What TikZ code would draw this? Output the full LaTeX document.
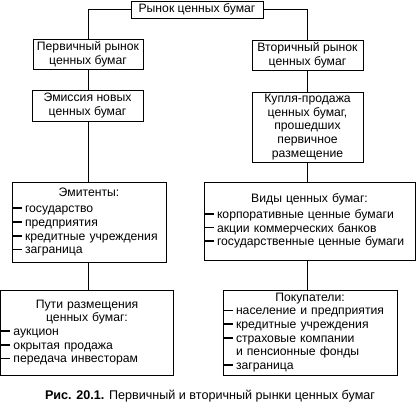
\documentclass[tikz,border=0pt]{standalone}
\usepackage{fontspec}
\setmainfont{Liberation Sans}
\newcommand{\dsh}{\makebox[12pt][l]{\raisebox{3.6pt}{\rule{8.5pt}{1.7pt}}}}

\begin{document}
\begin{tikzpicture}[
    x=1pt, y=-1pt, font=\fontsize{12.2}{13.7}\selectfont,
    box/.style={draw, line width=0.9pt, inner sep=1.5pt, align=center},
    lst/.style={draw, line width=0.9pt, inner sep=1pt},
    link/.style={line width=0.9pt},
    captxt/.style={font=\fontsize{12.6}{15}\selectfont},
]
\useasboundingbox (0,0) rectangle (420,409);

% ===================== Вершина =====================
\node[box, minimum width=132, minimum height=17] (rynok) at (197,9.5)
      {Рынок ценных бумаг};

% ===================== Первичный рынок (слева) =====================
\node[box, minimum width=110, minimum height=30] (perv) at (88,54)
      {Первичный рынок\\ценных бумаг};
\node[box, minimum width=111, minimum height=31] (emis) at (87.5,105.5)
      {Эмиссия новых\\ценных бумаг};
\node[lst, text width=152, minimum height=80] (emit) at (89,222)
      {\vspace{3pt}{\centering Эмитенты:\par}\raggedright
       \dsh государство\\
       \dsh предприятия\\
       \dsh кредитные учреждения\\
       \dsh заграница};
\node[lst, text width=171, minimum height=85] (puti) at (87,332.5)
      {{\centering Пути размещения\\ценных бумаг:\par}\raggedright
       \dsh аукцион\\
       \dsh окрытая продажа\\
       \dsh передача инвесторам};

% ===================== Вторичный рынок (справа) =====================
\node[box, minimum width=111, minimum height=30] (vtor) at (307.5,55)
      {Вторичный рынок\\ценных бумаг};
\node[box, minimum width=111, minimum height=70] (kupl) at (307.5,127)
      {Купля-продажа\\ценных бумаг,\\прошедших\\первичное\\размещение};
\node[lst, text width=209, minimum height=78] (vidy) at (309.5,221)
      {{\centering Виды ценных бумаг:\par}\vspace{2pt}\raggedright
       \dsh корпоративные ценные бумаги\\
       \dsh акции коммерческих банков\\
       \dsh государственные ценные бумаги};
\node[lst, text width=172, minimum height=85] (pokup) at (310,332.5)
      {{\centering Покупатели:\par}\raggedright
       \dsh население и предприятия\\
       \dsh кредитные учреждения\\
       \dsh страховые компании\\
       \hspace*{12pt}и пенсионные фонды\\
       \dsh заграница};

% ===================== Связи =====================
\draw[link] (rynok.west) -| (perv.north);
\draw[link] (rynok.east) -| (vtor.north);

\draw[link] (perv.south) -- (perv.south |- emis.north);
\draw[link] (perv.south |- emis.south) -- (perv.south |- emit.north);
\draw[link] (perv.south |- emit.south) -- (perv.south |- puti.north);

\draw[link] (vtor.south) -- (vtor.south |- kupl.north);
\draw[link] (vtor.south |- kupl.south) -- (vtor.south |- vidy.north);
\draw[link] (vtor.south |- vidy.south) -- (vtor.south |- pokup.north);

% ===================== Подпись =====================
\node[captxt] (caption) at (210,396)
      {\textbf{Рис. 20.1.} Первичный и вторичный рынки ценных бумаг};

\end{tikzpicture}
\end{document}
